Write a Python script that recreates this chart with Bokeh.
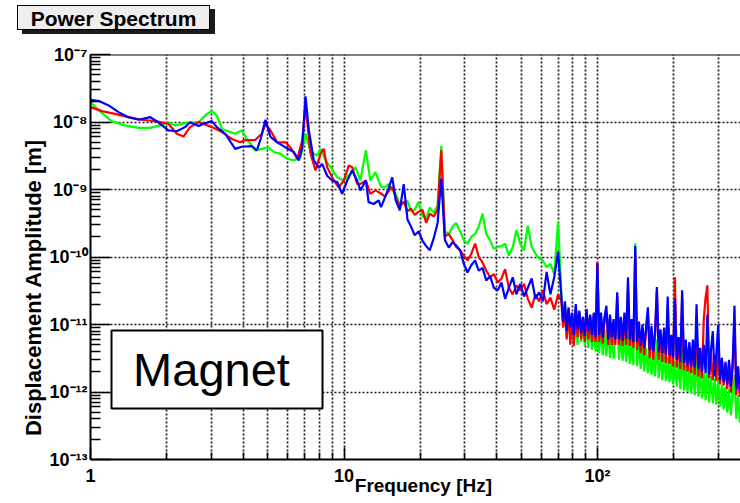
import math
from bokeh.plotting import figure
from bokeh.layouts import column
from bokeh.models import FixedTicker, Label, Span, BoxAnnotation, Div
from bokeh.embed import file_html
from bokeh.resources import INLINE

# ---------------- data ----------------
mid_freq = [14.0, 14.5, 15.0, 15.5, 16.0, 16.6, 17.2, 17.8, 18.4, 19.0, 19.7, 20.4,
            21.1, 21.8, 22.6, 23.4, 24.2, 25.0, 25.9, 26.8, 27.7, 28.7, 29.7, 30.7,
            31.8, 32.9, 34.0, 35.2, 36.4, 37.7, 39.0, 40.4, 41.8, 43.2, 44.7, 46.3,
            47.9, 49.6, 51.3, 53.1, 55.0, 56.9, 58.9, 60.9, 63.0, 65.2, 67.5, 69.9]

hf_freq = [72.0, 73.2, 74.4, 75.6, 76.9, 78.1, 79.4, 80.7, 82.1, 83.4,
           84.8, 86.2, 87.6, 89.1, 90.5, 92.0, 93.6, 95.1, 96.7, 98.3,
           99.9, 101.5, 103.2, 104.9, 106.6, 108.4, 110.2, 112.0, 113.9, 115.7,
           117.6, 119.6, 121.6, 123.6, 125.6, 127.7, 129.8, 131.9, 134.1, 136.3,
           138.6, 140.9, 143.2, 145.6, 148.0, 150.4, 152.9, 155.4, 158.0, 160.6,
           163.3, 166.0, 168.7, 171.5, 174.3, 177.2, 180.1, 183.1, 186.1, 189.2,
           192.3, 195.5, 198.7, 202.0, 205.4, 208.7, 212.2, 215.7, 219.3, 222.9,
           226.6, 230.3, 234.1, 238.0, 241.9, 245.9, 250.0, 254.1, 258.3, 262.6,
           266.9, 271.3, 275.8, 280.4, 285.0, 289.7, 294.5, 299.4, 304.3, 309.4,
           314.5, 319.7, 325.0, 330.3, 335.8, 341.3, 347.0, 352.7, 358.5, 364.5,
           370.5]

red_low_freq = [1.0, 1.11, 1.25, 1.41, 1.59, 1.80, 2.03, 2.19, 2.33, 2.47, 2.67, 3.01,
                3.30, 3.61, 3.89, 4.07, 4.46, 4.74, 4.90, 5.13, 5.45, 5.88, 6.15, 6.54,
                6.84, 7.05, 7.38, 7.72, 8.08, 8.32, 8.58, 9.12, 9.54, 9.98, 10.45, 10.77,
                11.27, 11.6, 12.2, 12.7, 13.3]
red_low_amp = [1.66e-8, 1.45e-8, 1.32e-8, 1.18e-8, 1.08e-8, 1.03e-8, 9.4e-9, 6.7e-9, 6.1e-9,
               8.4e-9, 1.0e-8, 8.4e-9, 7.1e-9, 5.6e-9, 5.0e-9, 5.4e-9, 5.4e-9, 6.7e-9,
               9.4e-9, 7.5e-9, 5.0e-9, 5.0e-9, 4.2e-9, 2.85e-9, 5.3e-9, 1.76e-8, 3.4e-9,
               1.91e-9, 3.4e-9, 4.0e-9, 2.14e-9, 1.36e-9, 1.08e-9, 1.36e-9, 2.27e-9,
               2.14e-9, 1.21e-9, 1.21e-9, 1.36e-9, 8.6e-10, 9.7e-10]
red_mid_amp = [8.7e-10, 7.9e-10, 9.5e-10, 1.1e-9, 7.6e-10, 5.6e-10, 6.6e-10, 4.8e-10,
               5.2e-10, 4.2e-10, 4.7e-10, 5.0e-10, 3.2e-10, 4.4e-10, 4.0e-10, 5.0e-10,
               3.8e-9, 2.0e-10, 2.2e-10, 1.78e-10, 1.41e-10, 1.26e-10, 1.05e-10, 8.9e-11,
               1.12e-10, 1.58e-10, 1.0e-10, 8.3e-11, 6.3e-11, 5.0e-11, 5.6e-11, 4.2e-11,
               4.8e-11, 6.6e-11, 3.5e-11, 2.8e-11, 3.8e-11, 3.2e-11, 4.0e-11, 2.4e-11,
               1.78e-11, 2.8e-11, 2.2e-11, 3.2e-11, 2.0e-11, 2.5e-11, 1.66e-11, 2.8e-11]
red_hf_amp = [2.2e-11, 9e-12, 2.0e-11, 6e-12, 1.7e-11, 5e-12, 1.4e-11, 4.8e-12, 1.8e-11, 6.5e-12,
              1.5e-11, 6e-12, 1.3e-11, 5.5e-12, 1.6e-11, 6e-12, 1.3e-11, 5.5e-12, 1.4e-11, 5.5e-12,
              8.5e-11, 5.5e-12, 1.3e-11, 5.2e-12, 1.2e-11, 1.5e-11, 5e-12, 1.2e-11, 5e-12, 1.1e-11,
              5e-12, 2.6e-11, 5e-12, 1.1e-11, 4.8e-12, 1.2e-11, 5e-12, 3.5e-11, 4.8e-12, 1.0e-11,
              4.5e-12, 1.1e-10, 4.2e-12, 9e-12, 3.8e-12, 8.5e-12, 3.5e-12, 8e-12, 1.4e-11, 3.2e-12,
              8e-12, 3e-12, 7e-12, 3.2e-11, 3e-12, 7e-12, 2.8e-12, 7.5e-12, 2.7e-12, 1.8e-11,
              2.6e-12, 6e-12, 2.4e-12, 5e-11, 2.3e-12, 5.5e-12, 2.2e-12, 2.5e-11, 2.1e-12, 5e-12,
              2e-12, 4.8e-12, 1.9e-12, 5e-12, 1.8e-12, 1.0e-11, 1.7e-12, 4e-12, 1.6e-12, 1.2e-11,
              2.5e-11, 3.8e-11, 1.6e-12, 3.8e-12, 1.5e-12, 3.5e-12, 1.45e-12, 5.6e-12, 1.3e-12, 3e-12,
              1.25e-12, 2.6e-12, 1.1e-12, 2.7e-12, 1.0e-12, 2.4e-12, 1.0e-11, 9e-13, 2.2e-12, 8.5e-13,
              1.6e-12]

green_low_freq = [1.0, 1.08, 1.21, 1.37, 1.55, 1.72, 1.88, 2.03, 2.16, 2.36, 2.67, 2.88,
                  3.01, 3.15, 3.30, 3.72, 3.95, 4.14, 4.46, 4.74, 5.03, 5.28, 5.60, 5.97,
                  6.34, 6.74, 7.05, 7.38, 7.84, 8.08, 8.45, 8.85, 9.40, 9.98, 10.6, 11.1,
                  11.6, 12.2, 12.7, 13.3]
green_low_amp = [1.97e-8, 1.48e-8, 1.03e-8, 8.9e-9, 8.2e-9, 8.2e-9, 8.9e-9, 9.9e-9, 8.9e-9,
                 9.6e-9, 9.9e-9, 1.32e-8, 1.45e-8, 1.25e-8, 7.9e-9, 6.7e-9, 7.5e-9, 5.6e-9,
                 3.8e-9, 4.0e-9, 4.2e-9, 3.6e-9, 3.4e-9, 2.85e-9, 2.7e-9, 3.0e-9, 6.7e-9,
                 3.6e-9, 3.2e-9, 4.0e-9, 2.7e-9, 2.14e-9, 1.52e-9, 1.36e-9, 1.71e-9,
                 2.14e-9, 1.36e-9, 3.8e-9, 1.36e-9, 1.81e-9]
green_mid_amp = [1.1e-9, 1.07e-9, 1.2e-9, 1.0e-9, 8.7e-10, 6.0e-10, 6.3e-10, 6.8e-10,
                 4.7e-10, 5.0e-10, 6.6e-10, 4.0e-10, 3.8e-10, 5.4e-10, 4.5e-10, 5.8e-10,
                 4.4e-9, 2.4e-10, 2.2e-10, 2.8e-10, 3.2e-10, 2.4e-10, 1.78e-10, 1.58e-10,
                 2.0e-10, 2.2e-10, 2.8e-10, 4.4e-10, 2.2e-10, 1.78e-10, 1.32e-10, 1.41e-10,
                 1.45e-10, 1.58e-10, 1.05e-10, 1.41e-10, 2.5e-10, 1.58e-10, 1.26e-10, 2.9e-10,
                 1.41e-10, 1.12e-10, 9.5e-11, 8.9e-11, 7.1e-11, 7.9e-11, 5.6e-11, 3.3e-10]
green_hf_amp = [3.0e-11, 1.0e-11, 1.9e-11, 6.5e-12, 1.5e-11, 6e-12, 1.4e-11, 5.5e-12, 1.3e-11, 5e-12,
                1.5e-11, 5.5e-12, 1.2e-11, 4.8e-12, 1.3e-11, 4.5e-12, 1.1e-11, 4.2e-12, 1.0e-11, 4e-12,
                1.2e-11, 3.8e-12, 9e-12, 3.5e-12, 8.5e-12, 3.4e-12, 8e-12, 3.2e-12, 8.5e-12, 3.1e-12,
                7.5e-12, 1.4e-11, 3e-12, 7e-12, 2.9e-12, 6.5e-12, 2.8e-12, 7e-12, 2.6e-12, 6e-12,
                2.5e-12, 1.6e-10, 2.4e-12, 5.2e-12, 2.2e-12, 4.8e-12, 2.0e-12, 4.5e-12, 1.9e-12, 4.2e-12,
                1.8e-12, 4.0e-12, 1.7e-12, 6e-12, 1.6e-12, 3.6e-12, 1.5e-12, 3.4e-12, 1.45e-12, 3.2e-12,
                1.4e-12, 3.0e-12, 1.3e-12, 2.9e-12, 1.2e-12, 2.7e-12, 1.1e-12, 4.5e-12, 1.05e-12, 2.5e-12,
                1.0e-12, 2.4e-12, 9.5e-13, 2.2e-12, 9e-13, 3.5e-12, 8.5e-13, 2.0e-12, 8e-13, 1.9e-12,
                7.5e-13, 2.8e-12, 7e-13, 1.7e-12, 6.8e-13, 1.6e-12, 6.5e-13, 1.5e-12, 6e-13, 1.3e-12,
                5.5e-13, 1.2e-12, 5e-13, 1.1e-12, 4.5e-13, 1.0e-12, 1.8e-12, 4e-13, 9e-13, 3.5e-13,
                7e-13]

blue_low_freq = [1.0, 1.08, 1.18, 1.29, 1.41, 1.55, 1.72, 1.85, 2.03, 2.19, 2.36, 2.47,
                 2.67, 2.79, 3.01, 3.15, 3.40, 3.72, 3.95, 4.33, 4.53, 4.69, 4.90, 5.13,
                 5.45, 5.88, 6.34, 6.63, 6.84, 7.05, 7.27, 7.60, 7.96, 8.20, 8.58, 8.98,
                 9.40, 9.83, 10.3, 10.77, 11.27, 11.6, 12.2, 12.5, 13.1, 13.7]
blue_low_amp = [2.13e-8, 2.04e-8, 1.76e-8, 1.40e-8, 1.18e-8, 1.08e-8, 1.18e-8, 9.9e-9,
                7.5e-9, 7.3e-9, 8.4e-9, 9.9e-9, 8.7e-9, 9.4e-9, 1.03e-8, 8.4e-9, 6.7e-9,
                4.0e-9, 4.3e-9, 4.4e-9, 3.8e-9, 5.6e-9, 1.08e-8, 6.0e-9, 5.0e-9, 4.2e-9,
                3.6e-9, 2.7e-9, 4.2e-9, 2.4e-8, 7.5e-9, 2.7e-9, 2.1e-9, 2.4e-9, 1.6e-9,
                1.36e-9, 1.29e-9, 8.6e-10, 1.36e-9, 1.91e-9, 1.36e-9, 9.7e-10, 1.36e-9,
                6.5e-10, 6.1e-10, 6.9e-10]
blue_mid_amp = [5.5e-10, 7.6e-10, 1.05e-9, 1.51e-9, 6.9e-10, 4.9e-10, 1.2e-9, 3.6e-10,
                2.8e-10, 2.1e-10, 2.4e-10, 1.74e-10, 1.45e-10, 1.26e-10, 1.9e-10, 3.2e-10,
                1.45e-9, 1.78e-10, 1.38e-10, 1.66e-10, 1.48e-10, 1.26e-10, 7.9e-11, 5.9e-11,
                7.6e-11, 8.9e-11, 6.3e-11, 6.9e-11, 4.5e-11, 5.2e-11, 3.5e-11, 3.2e-11,
                4.2e-11, 2.4e-11, 3.5e-11, 5.0e-11, 2.8e-11, 4.0e-11, 2.6e-11, 3.5e-11,
                4.8e-11, 2.4e-11, 3.0e-11, 2.2e-11, 6.0e-11, 2.8e-11, 5.0e-11, 1.2e-10]
blue_hf_amp = [2.6e-11, 1.1e-11, 2.2e-11, 8e-12, 1.8e-11, 9e-12, 1.5e-11, 7e-12, 2.0e-11, 8.5e-12,
               1.6e-11, 7.5e-12, 1.3e-11, 6.8e-12, 1.7e-11, 8e-12, 1.4e-11, 7e-12, 1.5e-11, 6.5e-12,
               8e-11, 7e-12, 1.5e-11, 6.5e-12, 1.3e-11, 1.9e-11, 6e-12, 1.4e-11, 6.5e-12, 1.2e-11,
               6e-12, 3.0e-11, 6e-12, 1.3e-11, 5.8e-12, 1.5e-11, 6.2e-12, 5e-11, 6e-12, 1.2e-11,
               5.5e-12, 1.45e-10, 5.5e-12, 1.1e-11, 4.8e-12, 1.0e-11, 4.5e-12, 9e-12, 1.8e-11, 4.2e-12,
               9.5e-12, 4.0e-12, 8e-12, 3.6e-11, 4e-12, 8.5e-12, 3.8e-12, 9e-12, 3.6e-12, 2.6e-11,
               3.5e-12, 7e-12, 3.2e-12, 2.4e-11, 3e-12, 6.5e-12, 2.8e-12, 3.2e-11, 2.7e-12, 6e-12,
               2.5e-12, 5.5e-12, 2.4e-12, 6e-12, 2.3e-12, 2.0e-11, 2.2e-12, 4.5e-12, 2.0e-12, 5e-12,
               1.9e-12, 1.4e-11, 1.8e-12, 4.2e-12, 8e-12, 1.7e-12, 3.8e-12, 1.0e-11, 1.5e-12, 3.2e-12,
               1.4e-12, 2.8e-12, 1.3e-12, 3e-12, 1.2e-12, 2.6e-12, 1.9e-11, 1.1e-12, 2.4e-12, 1.0e-12,
               1.8e-12]

red_freq = red_low_freq + mid_freq + hf_freq
red_amp = red_low_amp + red_mid_amp + red_hf_amp
green_freq = green_low_freq + mid_freq + hf_freq
green_amp = green_low_amp + green_mid_amp + green_hf_amp
blue_freq = blue_low_freq + mid_freq + hf_freq
blue_amp = blue_low_amp + blue_mid_amp + blue_hf_amp

x_tick_values = [1, 10, 100]
x_tick_labels = ["1", "10", "10\u00b2"]
y_tick_values = [1e-7, 1e-8, 1e-9, 1e-10, 1e-11, 1e-12, 1e-13]
y_tick_labels = ["10\u207b\u2077", "10\u207b\u2078", "10\u207b\u2079", "10\u207b\u00b9\u2070",
                 "10\u207b\u00b9\u00b9", "10\u207b\u00b9\u00b2", "10\u207b\u00b9\u00b3"]
title_text = "Power Spectrum"

# ---------------- layout helpers (page pixels -> data coords) ----------------
FONT = "Liberation Sans"
TOP_H = 36                      # height of the title strip above the figure
FRAME_L, FRAME_T = 90, 54       # frame position on the page
DEC_X, DEC_Y = 253.5, 67.5
NB = "\u00a0"


def fx(px):
    return 10 ** ((px - FRAME_L) / DEC_X)


def fy(py):
    return 10 ** (-7 - (py - FRAME_T) / DEC_Y)


X_END = fx(740)

title_div = Div(
    text=('<div style="margin-left:17px;margin-top:5px;width:193px;height:25px;'
          'background:#eeeeee;border:1px solid black;box-shadow:5px 4px 0 #1a1a1a;'
          "font-family:'Liberation Sans';font-weight:bold;font-size:21px;"
          'line-height:25px;text-align:center;color:black;">%s</div>' % title_text),
    width=740, height=TOP_H, margin=0)

p = figure(width=740, height=500 - TOP_H, x_axis_type="log", y_axis_type="log",
           x_range=(1, X_END), y_range=(1e-13, 1e-7),
           output_backend="svg", toolbar_location=None, margin=0,
           min_border_left=FRAME_L, min_border_right=0, min_border_top=FRAME_T - TOP_H,
           min_border_bottom=41)
p.outline_line_color = None
p.background_fill_color = "white"
p.border_fill_color = "white"

xminor = [k * 10 ** e for e in range(0, 3) for k in range(2, 10)]
yminor = [k * 10.0 ** (-e) for e in range(8, 14) for k in range(2, 10)]
xt = FixedTicker(ticks=x_tick_values, minor_ticks=xminor)
yt = FixedTicker(ticks=y_tick_values, minor_ticks=yminor)
p.xaxis.ticker = xt
p.yaxis.ticker = yt
p.xgrid.ticker = xt
p.ygrid.ticker = yt
p.xaxis.major_label_overrides = dict(zip(x_tick_values, x_tick_labels))
p.yaxis.major_label_overrides = dict(zip(y_tick_values, y_tick_labels))

for ax in (p.xaxis[0], p.yaxis[0]):
    ax.axis_line_color = "black"
    ax.axis_line_width = 2
    ax.major_tick_line_color = "black"
    ax.minor_tick_line_color = "black"
    ax.major_tick_line_width = 1.5
    ax.minor_tick_line_width = 1.5
    ax.major_tick_out = 0
    ax.minor_tick_out = 0
    ax.major_label_text_font = FONT
    ax.major_label_text_font_style = "bold"
    ax.major_label_text_font_size = "18px"
    ax.major_label_text_color = "black"
    ax.axis_label_text_font = FONT
    ax.axis_label_text_font_style = "bold"
    ax.axis_label_text_color = "black"
p.yaxis.major_tick_in = 20
p.yaxis.minor_tick_in = 10
p.xaxis.major_tick_in = 12
p.xaxis.minor_tick_in = 7
p.yaxis.major_label_standoff = 3
p.xaxis.major_label_standoff = 6

p.xaxis.axis_label = NB * 3 + "Frequency [Hz]"
p.xaxis.axis_label_text_font_size = "19px"
p.xaxis.axis_label_standoff = -14
p.yaxis.axis_label = "Displacement Amplitude [m]" + NB * 10
p.yaxis.axis_label_text_font_size = "22px"
p.yaxis.axis_label_standoff = 0

for g in (p.xgrid[0], p.ygrid[0]):
    g.grid_line_color = "black"
    g.grid_line_dash = "2 2"
    g.grid_line_width = 1.7
    g.grid_line_alpha = 0.9
p.xgrid.minor_grid_line_color = "black"
p.xgrid.minor_grid_line_dash = "2 2"
p.xgrid.minor_grid_line_width = 1.7
p.xgrid.minor_grid_line_alpha = 0.9
p.ygrid.minor_grid_line_color = None

p.add_layout(Span(location=1e-7, dimension="width", line_color="black", line_width=2))

p.line(green_freq, green_amp, line_color="#00ff00", line_width=2.2)
p.line(red_freq, red_amp, line_color="#ff0000", line_width=2.2)
p.line(blue_freq, blue_amp, line_color="#0000ff", line_width=2.2)

# Magnet box
p.add_layout(BoxAnnotation(left=fx(111), right=fx(322), top=fy(330), bottom=fy(408),
                           fill_color="white", fill_alpha=1, line_color="black",
                           line_alpha=1, line_width=2, level="overlay"))
p.add_layout(Label(x=fx(211), y=fy(369), text="Magnet", text_align="center",
                   text_baseline="alphabetic", text_font=FONT, text_font_size="47px",
                   text_color="black", level="overlay"))

layout = column(title_div, p, spacing=0)
open("out.html", "w").write(file_html(layout, INLINE))
